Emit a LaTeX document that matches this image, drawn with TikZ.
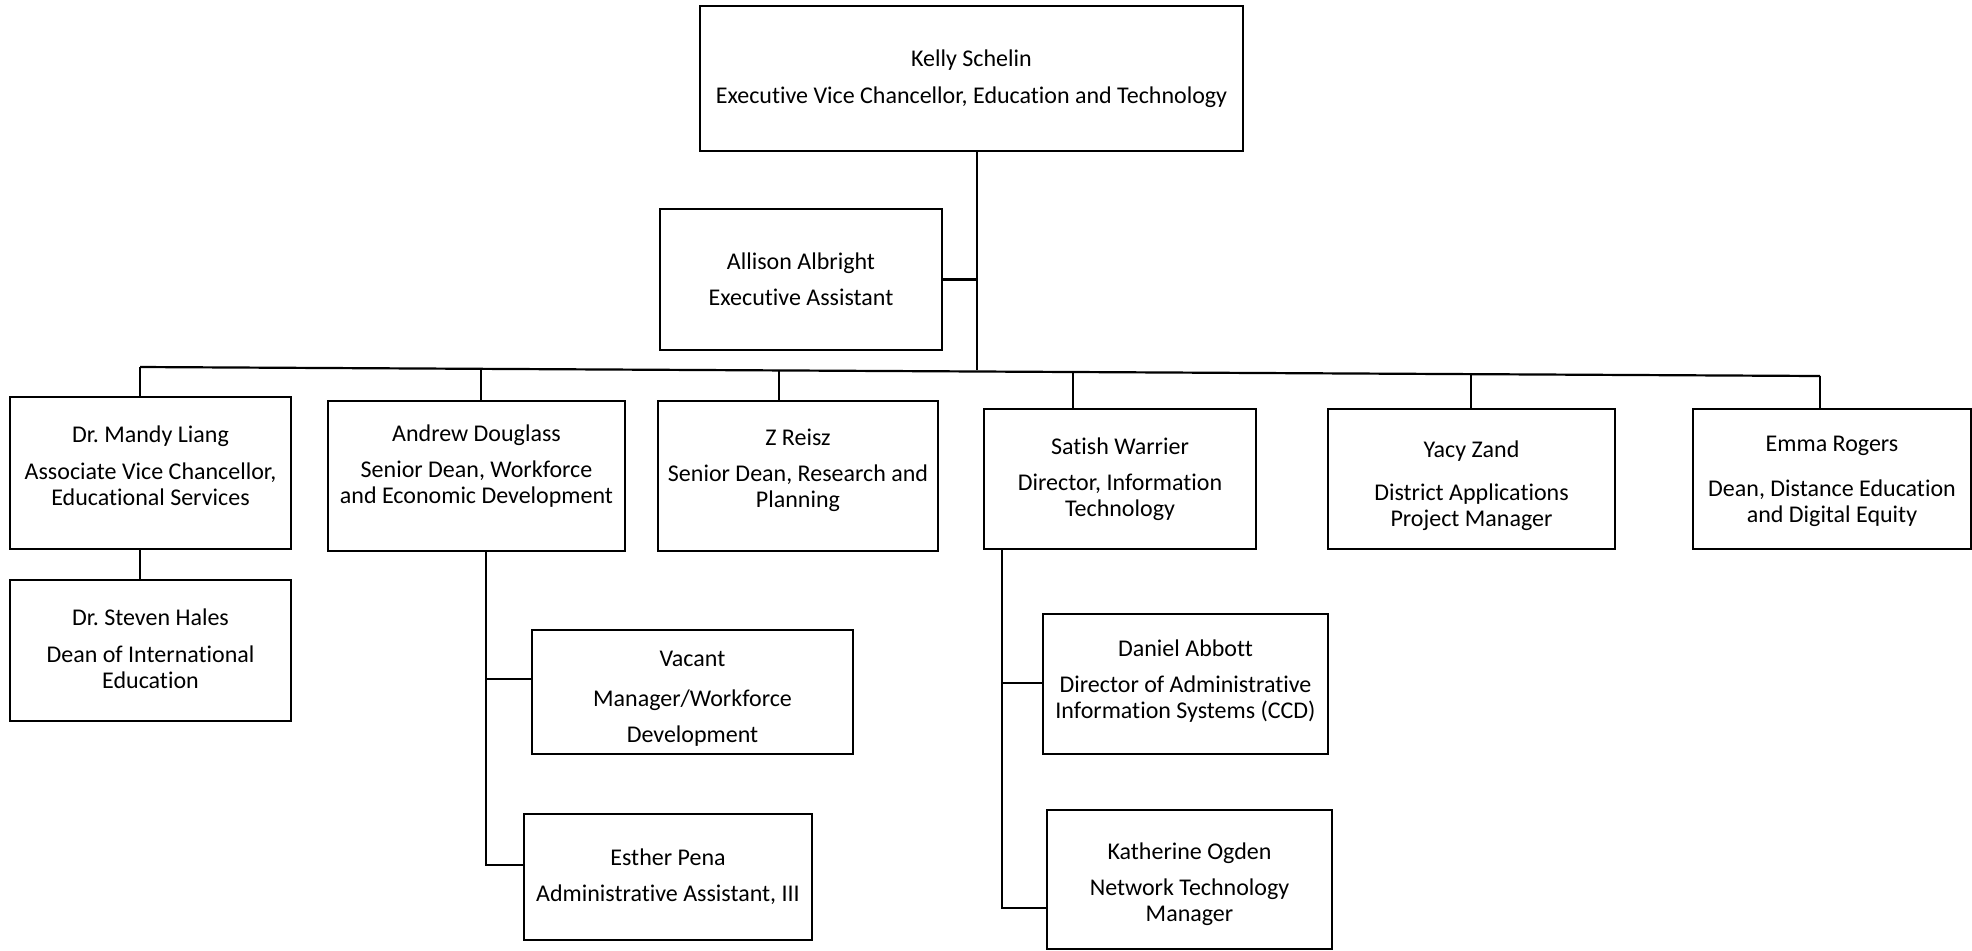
\documentclass[tikz,border=0pt]{standalone}
\usepackage{fontspec}
\setmainfont{Carlito}[Ligatures=NoCommon]
\frenchspacing
\begin{document}
\begin{tikzpicture}[x=0.5pt,y=-0.5pt,
  orgbox/.style={draw, line width=1.1pt, inner sep=0pt},
  txt/.style={align=center, inner sep=0pt,
    font=\fontsize{12pt}{13pt}\selectfont},
  link/.style={line width=1.1pt}]
\useasboundingbox (0,0) rectangle (1972,950);

% boxes
\node[orgbox, minimum width=271.5pt, minimum height=72.5pt,
  label={[txt]center:{Kelly Schelin\\[5.5pt]Executive Vice Chancellor, Education and Technology}}]
  (kelly) at (971.5,78.5) {};
\node[orgbox, minimum width=141pt, minimum height=70.5pt,
  label={[txt]center:{Allison Albright\\[5pt]Executive Assistant}}]
  (allison) at (801,279.5) {};
\node[orgbox, minimum width=140.5pt, minimum height=76pt,
  label={[txt, yshift=3.75pt]center:{Dr.\ Mandy Liang\\[5.5pt]Associate Vice Chancellor,\\Educational Services}}]
  (mandy) at (150.5,473) {};
\node[orgbox, minimum width=148.5pt, minimum height=75pt,
  label={[txt, yshift=5pt]center:{Andrew Douglass\\[5pt]Senior Dean, Workforce\\and Economic Development}}]
  (andrew) at (476.5,476) {};
\node[orgbox, minimum width=140pt, minimum height=75pt,
  label={[txt, yshift=3pt]center:{Z Reisz\\[5pt]Senior Dean, Research and\\Planning}}]
  (reisz) at (798,476) {};
\node[orgbox, minimum width=136pt, minimum height=70pt,
  label={[txt]center:{Satish Warrier\\[5pt]Director, Information\\Technology}}]
  (satish) at (1120,479) {};
\node[orgbox, minimum width=143.5pt, minimum height=70pt,
  label={[txt, yshift=-3.5pt]center:{Yacy Zand\\[8.5pt]District Applications\\Project Manager}}]
  (yacy) at (1471.5,479) {};
\node[orgbox, minimum width=139pt, minimum height=70pt,
  label={[txt, yshift=-1pt]center:{Emma Rogers\\[9.5pt]Dean, Distance Education\\and Digital Equity}}]
  (emma) at (1832,479) {};
\node[orgbox, minimum width=140.5pt, minimum height=70.5pt,
  label={[txt, yshift=1pt]center:{Dr.\ Steven Hales\\[5.5pt]Dean of International\\Education}}]
  (steven) at (150.5,650.5) {};
\node[orgbox, minimum width=160.5pt, minimum height=62pt,
  label={[txt, yshift=-3.5pt]center:{Vacant\\[7pt]Manager/Workforce\\[5pt]Development}}]
  (vacant) at (692.5,692) {};
\node[orgbox, minimum width=144pt, minimum height=63pt,
  label={[txt]center:{Esther Pena\\[5pt]Administrative Assistant, III}}]
  (esther) at (668,877) {};
\node[orgbox, minimum width=142.5pt, minimum height=70pt,
  label={[txt, yshift=1.25pt]center:{Daniel Abbott\\[5pt]Director of Administrative\\Information Systems (CCD)}}]
  (daniel) at (1185.5,684) {};
\node[orgbox, minimum width=142.5pt, minimum height=69.5pt,
  label={[txt, yshift=-2.2pt]center:{Katherine Ogden\\[5pt]Network Technology\\Manager}}]
  (katherine) at (1189.5,879.5) {};

% junction coordinates
\coordinate (j0) at (977,370);
\coordinate (b1) at (140,367);
\coordinate (b2) at (481,368.8);
\coordinate (b3) at (779,370.4);
\coordinate (b4) at (1073,372);
\coordinate (b5) at (1471,374.1);
\coordinate (b6) at (1820,376);
\coordinate (a1) at (486,679);
\coordinate (a2) at (486,865);
\coordinate (s1) at (1002,683);
\coordinate (s2) at (1002,908);

% connectors
\draw[link] (kelly.south -| j0) -- (j0);
\draw[link] (allison.east) -- (allison.east -| j0);
\draw[link] (b1) -- (b6);
\draw[link] (b1) -- (mandy.north -| b1);
\draw[link] (b2) -- (andrew.north -| b2);
\draw[link] (b3) -- (reisz.north -| b3);
\draw[link] (b4) -- (satish.north -| b4);
\draw[link] (b5) -- (yacy.north -| b5);
\draw[link] (b6) -- (emma.north -| b6);
\draw[link] (mandy.south -| b1) -- (steven.north -| b1);
\draw[link] (andrew.south -| a2) -- (a2) -- (a2 -| esther.west);
\draw[link] (a1) -- (a1 -| vacant.west);
\draw[link] (satish.south -| s2) -- (s2) -- (s2 -| katherine.west);
\draw[link] (s1) -- (s1 -| daniel.west);
\end{tikzpicture}
\end{document}
